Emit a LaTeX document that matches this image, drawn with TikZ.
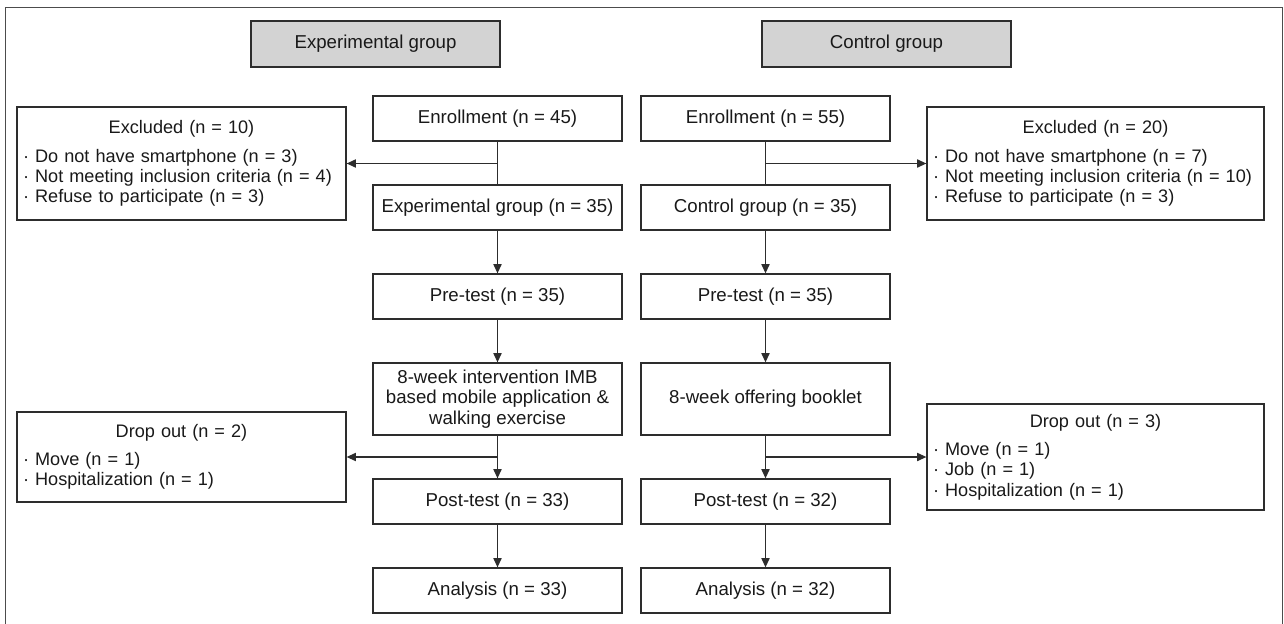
\documentclass[tikz,border=0pt]{standalone}
\usepackage{fontspec}
\setmainfont{Liberation Sans}
\usetikzlibrary{arrows.meta, positioning}
\definecolor{hdrgray}{RGB}{211,211,211}
\definecolor{linegray}{RGB}{45,45,45}

\begin{document}
\begin{tikzpicture}[x=0.75pt,y=0.75pt,>={Triangle[length=7pt,width=6.2pt]},
    font=\fontsize{14}{15.2}\selectfont,node distance=66.75pt,
    box/.style={draw=linegray,line width=0.95pt,minimum width=186.75pt,minimum height=33.75pt,
        inner sep=2pt,align=center,text=black!90},
    hdr/.style={box,fill=hdrgray,minimum height=34.5pt},
    side/.style={draw=linegray,line width=0.95pt,align=left,text width=#1,
        inner xsep=4.5pt,inner ysep=2pt,text=black!90,font=\fontsize{13.6}{15.2}\selectfont},
    flow/.style={draw=linegray,line width=0.95pt}]
    \useasboundingbox (0,0) rectangle (1284,-624);
    \draw[gray!60!black,line width=0.6pt] (5,-624) -- (5,-7) -- (1282,-7) -- (1282,-624);

    \node[hdr] (hdr1) at (375.5,-44) {Experimental group};
    \node[hdr] (hdr2) at (886.5,-44) {Control group};

    \node[box] (enr1) at (497.5,-118.5) {Enrollment (n = 45)};
    \node[box] (grp1) [below of = enr1] {Experimental group (n = 35)};
    \node[box] (pre1) [below of = grp1] {Pre-test (n = 35)};
    \node[box,minimum height=54pt] (int1) [below of = pre1, node distance=76.875pt]
        {8-week intervention IMB\\based mobile application \&\\walking exercise};
    \node[box] (post1) [below of = int1, node distance=76.875pt] {Post-test (n = 33)};
    \node[box] (ana1) [below of = post1] {Analysis (n = 33)};

    \node[box] (enr2) at (765.5,-118.5) {Enrollment (n = 55)};
    \node[box] (grp2) [below of = enr2] {Control group (n = 35)};
    \node[box] (pre2) [below of = grp2] {Pre-test (n = 35)};
    \node[box,minimum height=54pt] (int2) [below of = pre2, node distance=76.875pt]
        {8-week offering booklet};
    \node[box] (post2) [below of = int2, node distance=76.875pt] {Post-test (n = 32)};
    \node[box] (ana2) [below of = post2] {Analysis (n = 32)};

    \node[side=237.75pt,minimum height=84.75pt] (exc1) at (181.5,-163.5)
        {{\centering Excluded (n = 10)\par}\vspace{6pt}%
        · Do not have smartphone (n = 3)\\
        · Not meeting inclusion criteria (n = 4)\\
        · Refuse to participate (n = 3)};
    \node[side=243.75pt,minimum height=84.75pt] (exc2) at (1095.5,-163.5)
        {{\centering Excluded (n = 20)\par}\vspace{6pt}%
        · Do not have smartphone (n = 7)\\
        · Not meeting inclusion criteria (n = 10)\\
        · Refuse to participate (n = 3)};
    \node[side=237.75pt,minimum height=67.5pt] (drop1) at (181.5,-457)
        {{\centering Drop out (n = 2)\par}\vspace{6pt}%
        · Move (n = 1)\\
        · Hospitalization (n = 1)};
    \node[side=243.75pt,minimum height=79.5pt] (drop2) at (1095.5,-457)
        {{\centering Drop out (n = 3)\par}\vspace{6pt}%
        · Move (n = 1)\\
        · Job (n = 1)\\
        · Hospitalization (n = 1)};

    \draw[flow] (enr1) -- (grp1);
    \draw[flow,->] (enr1.south |- exc1.east) -- (exc1.east);
    \draw[flow,->] (grp1) -- (pre1);
    \draw[flow,->] (pre1) -- (int1);
    \draw[flow,->] (int1) -- (post1);
    \draw[flow,->] (int1.south |- drop1.east) -- (drop1.east);
    \draw[flow,->] (post1) -- (ana1);

    \draw[flow] (enr2) -- (grp2);
    \draw[flow,->] (enr2.south |- exc2.west) -- (exc2.west);
    \draw[flow,->] (grp2) -- (pre2);
    \draw[flow,->] (pre2) -- (int2);
    \draw[flow,->] (int2) -- (post2);
    \draw[flow,->] (int2.south |- drop2.west) -- (drop2.west);
    \draw[flow,->] (post2) -- (ana2);
\end{tikzpicture}
\end{document}
